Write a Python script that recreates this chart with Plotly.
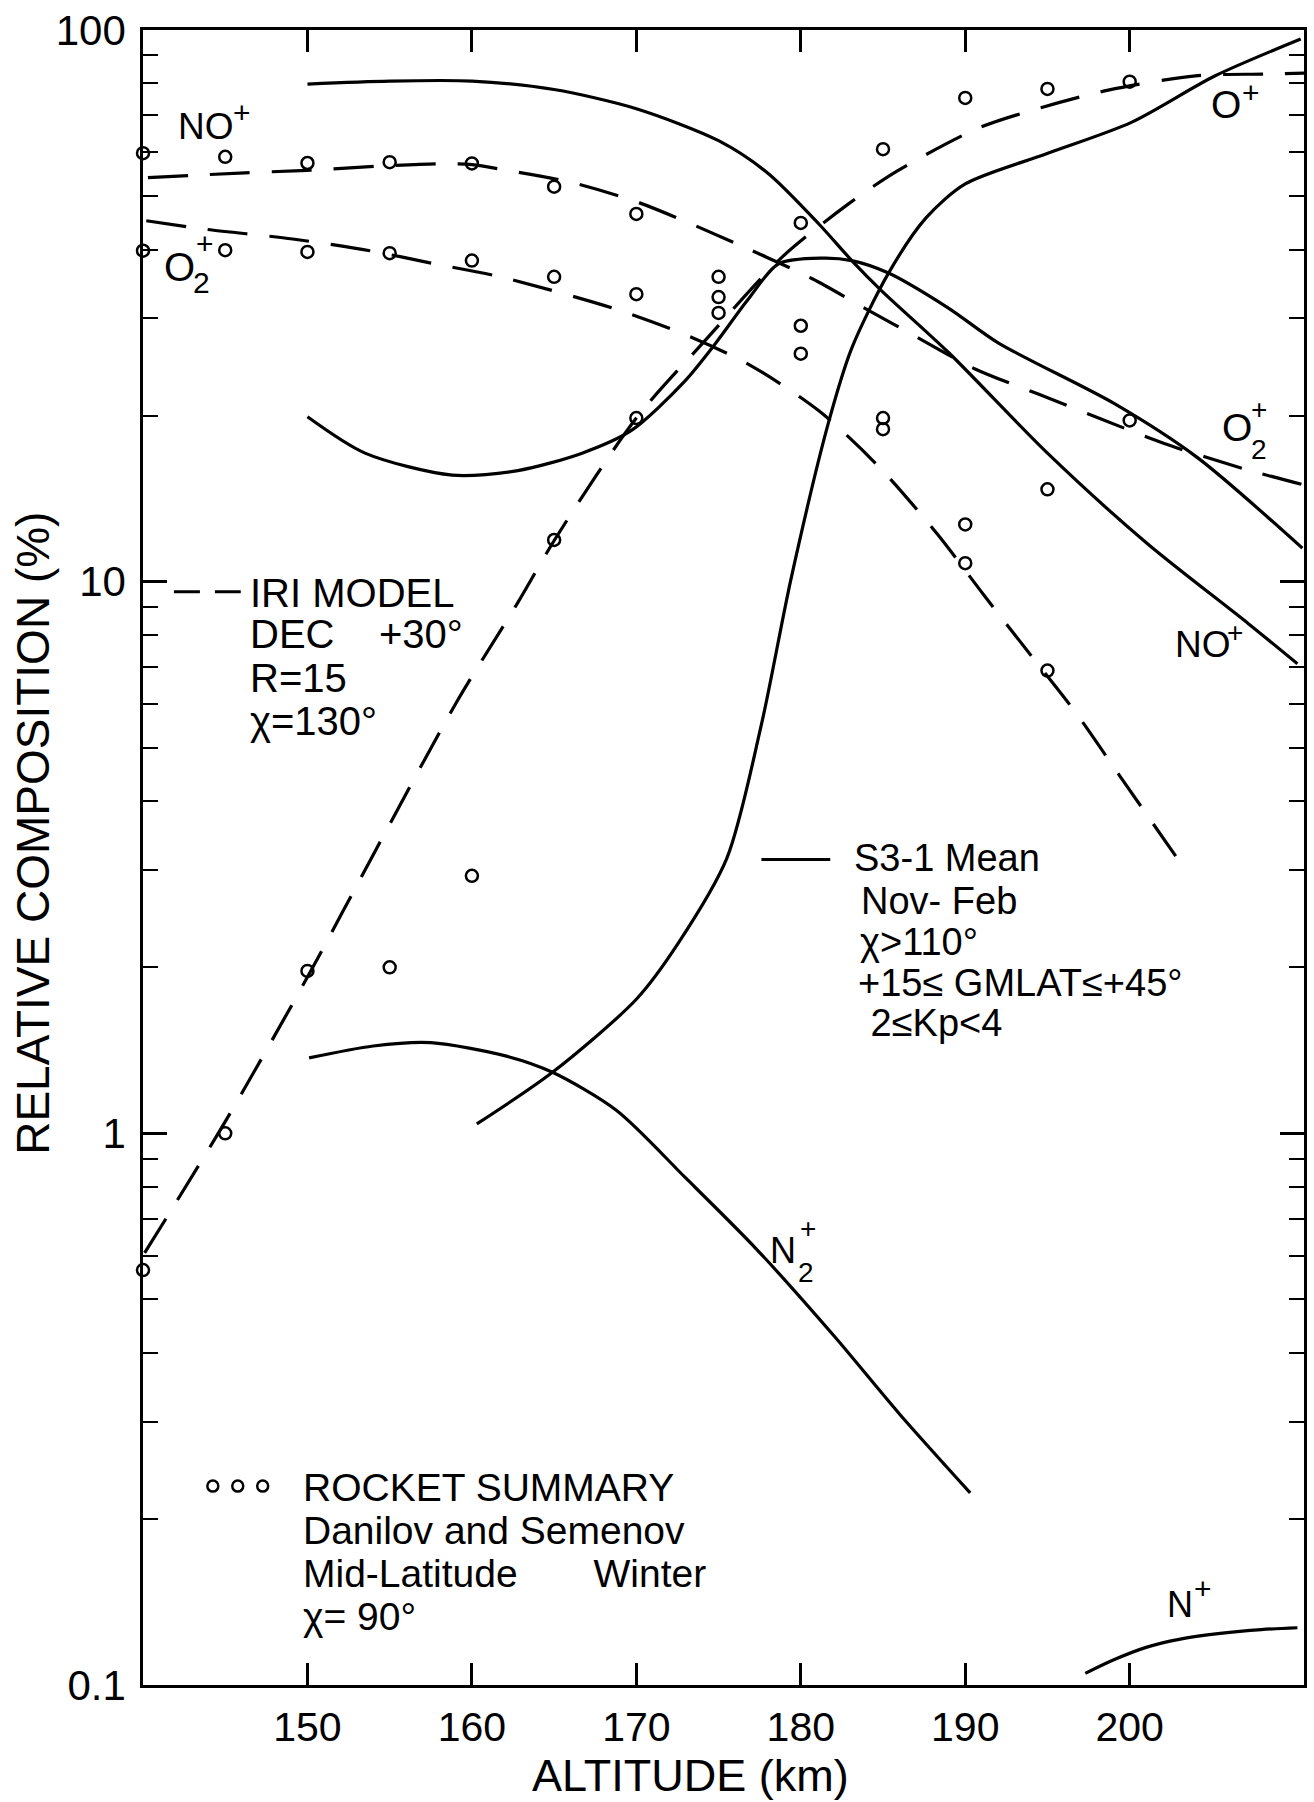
import plotly.graph_objects as go

# ---------------- data ----------------
# IRI model, dashed curves
iri_no_alt = [140.3, 146.2, 149.6, 154.6, 158.0, 160.0, 162.1, 166.0, 170.2, 176.8, 180.7, 183.9, 187.3, 190.6, 194.4, 198.3, 202.1, 207.0, 210.5]
iri_no_val = [54.0, 55.1, 55.6, 56.7, 57.2, 57.0, 55.7, 53.0, 48.6, 40.1, 35.4, 31.3, 27.5, 24.3, 21.9, 19.7, 17.8, 16.0, 15.0]

iri_o2_alt = [140.2, 143.9, 149.1, 153.8, 157.7, 161.7, 168.6, 172.9, 176.8, 181.1, 184.8, 188.3, 191.2, 194.0, 196.7, 199.5, 202.8]
iri_o2_val = [45.1, 43.5, 41.8, 39.8, 37.7, 35.7, 31.3, 28.1, 24.8, 20.4, 16.1, 12.2, 9.4, 7.35, 5.8, 4.4, 3.18]

iri_op_alt = [140.1, 145.0, 150.0, 154.1, 159.1, 162.8, 165.1, 170.0, 174.2, 178.8, 182.9, 185.9, 190.8, 194.6, 198.7, 204.0, 208.1, 210.6]
iri_op_val = [0.607, 1.05, 1.92, 3.24, 6.07, 9.17, 12.0, 19.8, 27.4, 38.6, 48.4, 55.6, 66.4, 72.3, 77.8, 82.6, 83.2, 83.5]

# S3-1 mean, solid curves
s3_no_alt = [150.0, 155.0, 160.0, 165.0, 170.0, 175.0, 178.0, 181.1, 183.1, 184.9, 189.0, 195.0, 201.1, 207.2, 210.2]
s3_no_val = [79.8, 80.8, 80.8, 78.0, 72.0, 63.0, 55.0, 44.5, 38.2, 33.7, 26.0, 17.1, 11.7, 8.4, 7.1]

s3_o2_alt = [150.0, 153.5, 158.8, 162.8, 166.7, 169.7, 172.95, 174.8, 176.8, 178.65, 181.3, 183.1, 185.3, 189.0, 192.0, 199.1, 204.1, 210.5]
s3_o2_val = [19.9, 17.1, 15.6, 15.9, 17.1, 18.8, 23.1, 27.0, 32.5, 37.7, 38.6, 38.2, 36.3, 31.3, 27.1, 21.0, 16.8, 11.5]

s3_op_alt = [160.3, 164.9, 170.0, 172.5, 175.5, 177.6, 179.4, 181.7, 183.1, 185.3, 187.6, 190.0, 194.9, 200.1, 205.2, 210.4]
s3_op_val = [1.04, 1.29, 1.75, 2.2, 3.15, 5.5, 10.1, 19.5, 26.5, 36.1, 45.6, 52.6, 59.6, 68.0, 82.6, 96.3]

s3_n2_alt = [150.1, 154.0, 157.5, 162.1, 164.9, 168.8, 173.0, 177.3, 182.0, 186.0, 190.3]
s3_n2_val = [1.37, 1.44, 1.46, 1.38, 1.29, 1.10, 0.83, 0.617, 0.43, 0.31, 0.223]

s3_n_alt = [197.3, 199.0, 201.0, 203.0, 205.5, 208.0, 210.2]
s3_n_val = [0.105, 0.111, 0.117, 0.121, 0.124, 0.126, 0.127]

# Rocket summary (Danilov and Semenov), open circles
rk_no_alt = [140, 145, 150, 155, 160, 165, 170, 175, 180, 185, 190, 195, 200]
rk_no_val = [59.8, 58.9, 57.4, 57.6, 57.3, 52.0, 46.4, 35.7, 29.1, 19.8, 12.7, 14.7, 19.6]
rk_o2_alt = [140, 145, 150, 155, 160, 165, 170, 175, 180, 185, 190, 195]
rk_o2_val = [39.8, 39.9, 39.6, 39.4, 38.2, 35.7, 33.2, 32.8, 25.9, 18.9, 10.8, 6.9]
rk_op_alt = [140, 145, 150, 155, 160, 165, 170, 175, 180, 185, 190, 195, 200]
rk_op_val = [0.565, 1.0, 1.97, 2.0, 2.93, 11.9, 19.8, 30.7, 44.7, 60.8, 75.3, 78.2, 80.6]

x_ticks = [150, 160, 170, 180, 190, 200]
x_tick_text = ["150", "160", "170", "180", "190", "200"]
y_ticks = [0.1, 1, 10, 100]
y_tick_text = ["0.1", "1", "10", "100"]

# ---------------- layout helpers ----------------
W, H = 1314, 1802
ML, MR, MT, MB = 143, 7, 29, 117
PW = W - ML - MR
PH = H - MT - MB
FONT = "Liberation Sans"
INK = "black"


def px(x):
    return (x - ML) / PW


def py(y):
    return (H - MB - y) / PH


fig = go.Figure()

DASH = "40px,22px"
for alt, val in [(iri_no_alt, iri_no_val), (iri_o2_alt, iri_o2_val), (iri_op_alt, iri_op_val)]:
    fig.add_trace(go.Scatter(x=alt, y=val, mode="lines", hoverinfo="skip",
                             line=dict(color=INK, width=3.2, dash=DASH, shape="spline", smoothing=0.8)))

for alt, val in [(s3_no_alt, s3_no_val), (s3_o2_alt, s3_o2_val), (s3_op_alt, s3_op_val),
                 (s3_n2_alt, s3_n2_val), (s3_n_alt, s3_n_val)]:
    fig.add_trace(go.Scatter(x=alt, y=val, mode="lines", hoverinfo="skip",
                             line=dict(color=INK, width=3.2, shape="spline", smoothing=0.8)))

for alt, val in [(rk_no_alt, rk_no_val), (rk_o2_alt, rk_o2_val), (rk_op_alt, rk_op_val)]:
    fig.add_trace(go.Scatter(x=alt, y=val, mode="markers", hoverinfo="skip", cliponaxis=False,
                             marker=dict(symbol="circle-open", size=12, color=INK, line=dict(width=2.5, color=INK))))


def label(text, x, y, size=39, xanchor="left", angle=0):
    fig.add_annotation(text=text, x=px(x), y=py(y), xref="paper", yref="paper", showarrow=False,
                       xanchor=xanchor, yanchor="middle", textangle=angle,
                       font=dict(family=FONT, size=size, color=INK))


# species labels
label("NO", 176, 126, 37)
label("+", 242, 112, 30, "center")
label("O", 180, 266, 40, "center")
label("2", 202, 282, 30, "center")
label("+", 205, 243, 30, "center")
label("O", 1229, 104, 39, "center")
label("+", 1254, 92, 30, "center")
label("O", 1240, 427, 39, "center")
label("2", 1262, 449, 28, "center")
label("+", 1262, 409, 28, "center")
label("NO", 1176, 644, 37)
label("+", 1238, 632, 28, "center")
label("N", 785, 1250, 36, "center")
label("2", 808, 1272, 28, "center")
label("+", 810, 1228, 28, "center")
label("N", 1183, 1604, 36, "center")
label("+", 1206, 1588, 30, "center")

# legend blocks
NB = "\u00a0"
fig.add_shape(type="line", xref="paper", yref="paper", x0=px(174), x1=px(241), y0=py(591), y1=py(591),
              line=dict(color=INK, width=3, dash="26px,15px"))
label("IRI MODEL", 248, 592, 40)
label("DEC" + NB * 4 + "+30°", 248, 633, 40)
label("R=15", 248, 677, 40)
label("χ=130°", 248, 720, 40)

fig.add_shape(type="line", xref="paper", yref="paper", x0=px(763), x1=px(832), y0=py(859), y1=py(859),
              line=dict(color=INK, width=3))
label("S3-1 Mean", 854, 858, 38)
label("Nov- Feb", 861, 901, 38)
label("χ>110°", 860, 942, 38)
label("+15≤ GMLAT≤+45°", 858, 983, 38)
label(NB + "2≤Kp<4", 860, 1023, 38)

for cx in (213, 238, 263):
    fig.add_shape(type="circle", xref="paper", yref="paper", x0=px(cx - 5.5), x1=px(cx + 5.5),
                  y0=py(1486 + 5.5), y1=py(1486 - 5.5), line=dict(color=INK, width=2.5))
label("ROCKET SUMMARY", 301, 1487)
label("Danilov and Semenov", 301, 1530)
label("Mid-Latitude" + NB * 7 + "Winter", 301, 1573)
label("χ= 90°", 301, 1616)

# axis titles
label("ALTITUDE (km)", 692, 1776, 45, "center")
label("RELATIVE COMPOSITION (%)", 32, 833, 46, "center", -90)

minor_vals = [m * 10 ** e for e in (-1, 0, 1) for m in range(2, 10)]

fig.update_layout(
    width=W, height=H,
    margin=dict(l=ML, r=MR, t=MT, b=MB, pad=0),
    paper_bgcolor="white", plot_bgcolor="white",
    showlegend=False,
    font=dict(family=FONT, color=INK),
    xaxis=dict(range=[140, 210.6], tickmode="array", tickvals=x_ticks, ticktext=x_tick_text,
               ticks="inside", ticklen=22, tickwidth=2.5, tickcolor=INK,
               showline=True, linecolor=INK, linewidth=2.5, mirror="ticks",
               showgrid=False, zeroline=False, ticklabelstandoff=4,
               tickfont=dict(family=FONT, size=41, color=INK)),
    yaxis=dict(type="log", range=[-1, 2], tickmode="array", tickvals=y_ticks, ticktext=y_tick_text,
               ticks="inside", ticklen=24, tickwidth=2.5, tickcolor=INK,
               minor=dict(tickmode="array", tickvals=minor_vals, ticks="inside", ticklen=15,
                          tickwidth=2, tickcolor=INK, showgrid=False),
               showline=True, linecolor=INK, linewidth=2.5, mirror="ticks",
               showgrid=False, zeroline=False, ticklabelstandoff=6,
               tickfont=dict(family=FONT, size=42, color=INK)),
)

fig.write_html("out.html")
